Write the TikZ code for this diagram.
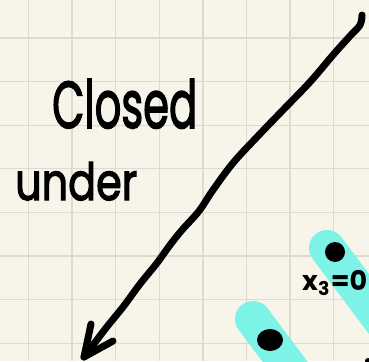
\documentclass[tikz,border=0pt]{standalone}
\usepackage{fontspec}
\setmainfont{Poppins}
\newfontfamily\handfont[FakeBold=2.5]{Poppins}
\usepackage{graphicx}
\definecolor{paper}{RGB}{247,245,234}
\definecolor{gridc}{RGB}{222,218,206}
\definecolor{hl}{RGB}{125,242,230}
\begin{document}
\begin{tikzpicture}[x=1pt,y=-1pt,
  ink/.style={line width=7pt,line cap=round,line join=round},
  gridline/.style={gridc,line width=1.3pt},
  marker/.style={hl,line width=36pt,line cap=round},
  hand/.style={inner sep=0pt,font=\handfont}]
\useasboundingbox (0,0) rectangle (369,361);
\clip (0,0) rectangle (369,361);
\fill[paper] (0,0) rectangle (369,361);
\foreach \i in {0,...,7}{
  \draw[gridline] ({28.5+43.6*\i},0) -- ++(0,361);
  \draw[gridline] (0,{38+43.6*\i}) -- ++(369,0);
}
% highlighter strokes
\draw[marker] (327,248) -- ++(90,120);
\draw[marker] (253,319) -- ++(60,80);
% dots
\fill (335,252) circle[radius=10pt];
\fill (270,340) ellipse[x radius=13pt,y radius=11pt];
\fill (368,361) circle[radius=3pt];
% text
\node[hand,anchor=base west] (closed) at (52,128) {\resizebox{145pt}{49pt}{Closed}};
\node[hand,anchor=base west] (under) at (15,200) {\resizebox{122pt}{38pt}{under}};
\node[hand,anchor=west,font=\bfseries] (eq) at (302,283) {\resizebox{65pt}{!}{x\textsubscript{3}=0}};
% arrow
\coordinate (a0) at (362,15);
\coordinate (a1) at (360,25);
\coordinate (a2) at (350,36);
\coordinate (a3) at (333,55);
\coordinate (a4) at (310,82);
\coordinate (a5) at (283,110);
\coordinate (a6) at (257,137);
\coordinate (a7) at (233,163);
\coordinate (a8) at (213,190);
\coordinate (a9) at (199,211);
\coordinate (a10) at (182,230);
\coordinate (a11) at (170,245);
\coordinate (a12) at (157,263);
\coordinate (a13) at (140,284);
\coordinate (a14) at (123,307);
\coordinate (a15) at (106,328);
\coordinate (tip) at (84,357);
\coordinate (barbL) at (91,324);
\coordinate (barbR) at (113,341);
\draw[ink] plot[smooth,tension=0.6] coordinates {(a0) (a1) (a2) (a3) (a4) (a5) (a6) (a7) (a8) (a9) (a10) (a11) (a12) (a13) (a14) (a15) (tip)};
\draw[ink] (barbL) -- (tip) -- (barbR);
\end{tikzpicture}
\end{document}
